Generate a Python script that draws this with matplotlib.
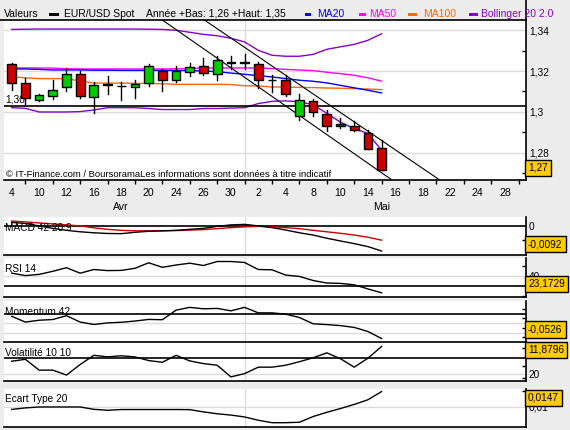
import matplotlib
matplotlib.use('Agg')
import matplotlib.pyplot as plt
from matplotlib.patches import Rectangle
from matplotlib.lines import Line2D
import matplotlib.transforms as mtrans
import numpy as np

plt.rcParams['font.family'] = ['Liberation Sans', 'DejaVu Sans']

# ---------------- data ----------------
days = [4, 5, 10, 11, 12, 13, 16, 17, 18, 19, 20, 23, 24, 25, 26, 27, 30,
        1, 2, 3, 4, 7, 8, 9, 10, 11, 14, 15,
        16, 17, 18, 21, 22, 23, 24, 25, 28, 29]
months = ['Avr'] * 17 + ['Mai'] * 21

opens = [1.3233, 1.3143, 1.3060, 1.3078, 1.3122, 1.3187, 1.3073, 1.3136, 1.3129, 1.3124,
         1.3143, 1.3200, 1.3158, 1.3195, 1.3226, 1.3187, 1.3244, 1.3244, 1.3236, 1.3155,
         1.3158, 1.2979, 1.3056, 1.2992, 1.2939, 1.2934, 1.2895, 1.2826]
highs = [1.3239, 1.3168, 1.3087, 1.3158, 1.3217, 1.3200, 1.3146, 1.3174, 1.3146, 1.3158,
         1.3233, 1.3210, 1.3223, 1.3241, 1.3265, 1.3272, 1.3272, 1.3285, 1.3242, 1.3182,
         1.3182, 1.3090, 1.3063, 1.3008, 1.2973, 1.2956, 1.2914, 1.2862]
lows = [1.3106, 1.3036, 1.3054, 1.3065, 1.3102, 1.3070, 1.2995, 1.3086, 1.3057, 1.3070,
        1.3127, 1.3102, 1.3146, 1.3178, 1.3180, 1.3158, 1.3212, 1.3212, 1.3119, 1.3098,
        1.3080, 1.2960, 1.2979, 1.2907, 1.2924, 1.2907, 1.2817, 1.2716]
closes = [1.3143, 1.3068, 1.3085, 1.3109, 1.3187, 1.3080, 1.3134, 1.3132, 1.3125, 1.3137,
          1.3223, 1.3158, 1.3199, 1.3221, 1.3189, 1.3256, 1.3240, 1.3240, 1.3158, 1.3155,
          1.3086, 1.3057, 1.2999, 1.2930, 1.2930, 1.2914, 1.2821, 1.2719]

ma20 = [1.3210, 1.3210, 1.3208, 1.3205, 1.3205, 1.3205, 1.3204, 1.3204, 1.3203, 1.3203,
        1.3203, 1.3203, 1.3203, 1.3202, 1.3200, 1.3197, 1.3190, 1.3184, 1.3177, 1.3171,
        1.3163, 1.3155, 1.3150, 1.3142, 1.3130, 1.3118, 1.3106, 1.3093]
ma50 = [1.3215, 1.3215, 1.3215, 1.3214, 1.3211, 1.3210, 1.3210, 1.3210, 1.3210, 1.3210,
        1.3210, 1.3210, 1.3211, 1.3212, 1.3215, 1.3215, 1.3215, 1.3215, 1.3215, 1.3212,
        1.3208, 1.3205, 1.3202, 1.3194, 1.3187, 1.3179, 1.3167, 1.3150]
ma100 = [1.3171, 1.3167, 1.3163, 1.3163, 1.3163, 1.3151, 1.3141, 1.3141, 1.3141, 1.3140,
         1.3139, 1.3138, 1.3135, 1.3135, 1.3135, 1.3135, 1.3134, 1.3128, 1.3127, 1.3122,
         1.3122, 1.3120, 1.3119, 1.3117, 1.3116, 1.3114, 1.3112, 1.3109]
bb_up = [1.3403, 1.3404, 1.3405, 1.3405, 1.3405, 1.3405, 1.3405, 1.3405, 1.3405, 1.3405,
         1.3404, 1.3403, 1.3399, 1.3389, 1.3379, 1.3372, 1.3360, 1.3342, 1.3301, 1.3277,
         1.3272, 1.3272, 1.3281, 1.3306, 1.3318, 1.3330, 1.3350, 1.3382]
bb_low = [1.3021, 1.3018, 1.3000, 1.3000, 1.3000, 1.3002, 1.3010, 1.3021, 1.3021, 1.3021,
          1.3017, 1.3012, 1.3012, 1.3012, 1.3017, 1.3017, 1.3019, 1.3021, 1.3041, 1.3052,
          1.3054, 1.3050, 1.3035, 1.2994, 1.2950, 1.2919, 1.2895, 1.2813]

support_level = 1.3028
channel_low = ([11.04, 27.61], [1.3447, 1.2675])
channel_high = ([14.11, 31.09], [1.3447, 1.2675])

macd = [0.00135, 0.00098, 0.00007, -0.00084, -0.00157, -0.00211, -0.00248, -0.00273, -0.00280, -0.00229,
        -0.00193, -0.00175, -0.00157, -0.00120, -0.00084, -0.00011, 0.00044, 0.00062, 0.00007, -0.00055,
        -0.00146, -0.00248, -0.00331, -0.00448, -0.00550, -0.00648, -0.00757, -0.0092]
macd_signal = [0.00186, 0.00153, 0.00116, 0.00080, 0.00044, 0.00007, -0.00066, -0.00120, -0.00157, -0.00175,
               -0.00175, -0.00175, -0.00167, -0.00149, -0.00131, -0.00095, -0.00058, -0.00029, -0.00011, -0.00022,
               -0.00058, -0.00095, -0.00157, -0.00211, -0.00266, -0.00331, -0.00411, -0.00521]
rsi = [42.9, 40.4, 41.6, 44.7, 48.3, 42.8, 46.5, 45.4, 45.6, 47.7,
       53.2, 48.7, 51.0, 52.8, 50.5, 54.5, 54.5, 53.5, 46.5, 46.2,
       40.9, 39.6, 35.5, 33.0, 32.6, 31.2, 27.1, 23.1729]
momentum = [-0.0056, -0.0178, -0.0139, -0.0124, -0.0043, -0.0178, -0.0229, -0.0195, -0.0182, -0.0156,
            -0.0122, -0.0128, 0.0075, 0.0133, 0.0103, 0.0111, 0.0060, 0.0133, 0.0017, 0.0017,
            -0.0011, -0.0081, -0.0214, -0.0231, -0.0253, -0.0291, -0.0377, -0.0526]
volatility = [9.43, 9.75, 7.96, 7.96, 7.14, 8.89, 10.41, 10.16, 10.33, 10.15,
              9.54, 9.26, 10.41, 9.48, 9.04, 8.77, 6.84, 7.38, 8.45, 8.45,
              8.77, 9.35, 10.00, 10.82, 9.84, 8.45, 9.92, 11.8796]
ecart = [0.00925, 0.00972, 0.0100, 0.0100, 0.0100, 0.0100, 0.00928, 0.0090, 0.00922, 0.00922,
         0.00922, 0.00922, 0.00922, 0.00919, 0.0085, 0.00793, 0.00753, 0.00696, 0.00596, 0.00521,
         0.00521, 0.00534, 0.00709, 0.00837, 0.00953, 0.01078, 0.01219, 0.0147]

# ---------------- styling constants ----------------
W, H = 570, 430
BG = '#ececec'
GRID = '#dcdcdc'
RED = '#cc0000'
GREEN = '#00cc00'
BLUE = '#0000ff'
MAGENTA = '#ff00ff'
ORANGE = '#ff6600'
PURPLE = '#8800cc'
YELLOW = '#ffcc00'
FS = 7.3

fig = plt.figure(figsize=(W / 100, H / 100), dpi=100, facecolor=BG)


def panel(x0, top, x1, bottom):
    return fig.add_axes([x0 / W, 1 - bottom / H, (x1 - x0) / W, (bottom - top) / H])


def fr(v, nd):
    s = f"{v:.{nd}f}".replace('.', ',')
    return s


n = len(closes)
idx = np.arange(n)
XMIN, XMAX = -0.56, len(days) - 0.46
month_start = months.index('Mai')


def base_style(ax):
    ax.set_facecolor('white')
    ax.spines['left'].set_visible(False)
    ax.spines['top'].set_visible(False)
    ax.spines['bottom'].set_linewidth(1.2)
    ax.spines['right'].set_linewidth(1.2)
    ax.set_xlim(XMIN, XMAX)
    ax.yaxis.tick_right()
    ax.axvline(month_start, color=GRID, lw=1, zorder=0)
    ax.tick_params(axis='y', which='major', length=0, pad=2, labelsize=FS)
    ax.tick_params(axis='y', which='minor', direction='in', length=3, width=1, right=True, left=False)


def value_box(ax, v, txt, hpx, top_m=8.5, bot_m=12.0):
    y0, y1 = ax.get_ylim()
    dpp = (y1 - y0) / hpx
    yy = min(max(v, y0 + bot_m * dpp), y1 - top_m * dpp)
    tr = mtrans.blended_transform_factory(ax.transAxes, ax.transData)
    ax.text(1.0 + 2.0 / 522, yy, txt, transform=tr, ha='left', va='center', fontsize=FS,
            bbox=dict(boxstyle='square,pad=0.32', fc=YELLOW, ec='black', lw=1), clip_on=False, zorder=10)


def title(ax, txt, hpx):
    ax.text(0.001, 1 - 11.0 / hpx, txt, transform=ax.transAxes, ha='left', va='center', fontsize=FS, zorder=6)


# ---------------- main chart ----------------
ax = panel(4, 20, 526, 180)
base_style(ax)
ax.set_ylim(1.2668, 1.3449)
ax.set_yticks([1.28, 1.30, 1.32, 1.34])
ax.set_yticklabels(['1,28', '1,3', '1,32', '1,34'])
ax.set_yticks([1.27, 1.29, 1.31, 1.33], minor=True)
for t in [1.28, 1.30, 1.32, 1.34]:
    ax.axhline(t, color=GRID, lw=1, zorder=0)

xt = list(range(0, len(days), 2))
ax.set_xticks(xt)
ax.set_xticklabels([str(days[i]) for i in xt])
ax.set_xticks(list(range(1, len(days), 2)), minor=True)
ax.tick_params(axis='x', which='major', length=0, pad=6, labelsize=7.6)
ax.tick_params(axis='x', which='minor', length=3, direction='out', width=1)
xtr = ax.get_xaxis_transform()
for m in ['Avr', 'Mai']:
    ii = [i for i, mm in enumerate(months) if mm == m]
    ax.text(np.mean(ii), -26.5 / 160, m, transform=xtr, ha='center', va='center', fontsize=7.6, clip_on=False)

ax.plot(idx, bb_up, color=PURPLE, lw=1, zorder=2)
ax.plot(idx, bb_low, color=PURPLE, lw=1, zorder=2)
ax.plot(idx, ma100, color=ORANGE, lw=1, zorder=2)
ax.plot(idx, ma50, color=MAGENTA, lw=1, zorder=2)
ax.plot(idx, ma20, color=BLUE, lw=1, zorder=2)

ax.axhline(support_level, color='black', lw=1.2, zorder=2)
ax.annotate('1,30', xy=(0, support_level), xycoords=mtrans.blended_transform_factory(ax.transAxes, ax.transData),
            xytext=(1, 5), textcoords='offset points', ha='left', va='center', fontsize=FS)

ax.axline((channel_low[0][0], channel_low[1][0]), (channel_low[0][1], channel_low[1][1]), color='black', lw=0.8, zorder=2)
ax.axline((channel_high[0][0], channel_high[1][0]), (channel_high[0][1], channel_high[1][1]), color='black', lw=0.8, zorder=2)

cw = 0.64
for i in range(n):
    o, h, l, c = opens[i], highs[i], lows[i], closes[i]
    ax.plot([i, i], [l, h], color='black', lw=1, zorder=3)
    col = GREEN if c >= o else RED
    ax.add_patch(Rectangle((i - cw / 2, min(o, c)), cw, abs(c - o), fc=col, ec='black', lw=1, zorder=4))

ax.text(2 / 522, 6 / 160, '\u00a9 IT-Finance.com / BoursoramaLes informations sont données à titre indicatif',
        transform=ax.transAxes, ha='left', va='center', fontsize=6.8, zorder=6)
value_box(ax, closes[-1], fr(closes[-1], 2), 160)

# ---------------- legend bar ----------------
ty = 1 - 13.7 / H
fig.add_artist(Line2D([0, 526 / W], [1 - 19.5 / H] * 2, color='black', lw=1.2))
fig.add_artist(Line2D([526 / W] * 2, [1 - 20 / H, 1.0], color='black', lw=1.2))
legend_items = [
    (4, 'Valeurs', 'black', None),
    (64, 'EUR/USD Spot', 'black', (49, 59)),
    (146, 'Année +Bas: 1,26 +Haut: 1,35', 'black', None),
    (316.7, 'MA20', BLUE, (305, 311)),
    (369, 'MA50', MAGENTA, (359, 366)),
    (422.7, 'MA100', ORANGE, (407.7, 416.7)),
    (481, 'Bollinger 20 2.0', PURPLE, (469, 478)),
]
for x, t, c, mk in legend_items:
    fig.text(x / W, ty, t, color=c, fontsize=7.5, ha='left', va='center')
    if mk is not None:
        fig.add_artist(Rectangle((mk[0] / W, 1 - 16 / H), (mk[1] - mk[0]) / W, 3 / H,
                                 transform=fig.transFigure, fc=c, ec='none'))

# ---------------- MACD ----------------
a1 = panel(4, 216.5, 526, 255)
base_style(a1)
a1.set_ylim(-0.01067, 0.00353)
a1.set_yticks([0])
a1.set_yticklabels(['0'])
a1.set_yticks([-0.005], minor=True)
a1.tick_params(axis='x', which='both', bottom=False, labelbottom=False)
a1.axhline(0, color='black', lw=1.2, zorder=1)
a1.plot(idx, macd_signal, color=RED, lw=1, zorder=3)
a1.plot(idx, macd, color='black', lw=1, zorder=3)
title(a1, 'MACD 42 20 9', 38.5)
value_box(a1, macd[-1], fr(macd[-1], 4), 38.5, bot_m=11.0)

# ---------------- RSI ----------------
a2 = panel(4, 258, 526, 297)
base_style(a2)
a2.set_ylim(19, 58)
a2.set_yticks([40])
a2.set_yticklabels(['40'])
a2.set_yticks([50, 20], minor=True)
a2.tick_params(axis='x', which='both', bottom=False, labelbottom=False)
a2.axhline(40, color=GRID, lw=1, zorder=0)
a2.axhline(30, color='black', lw=1.2, zorder=1)
a2.plot(idx, rsi, color='black', lw=1, zorder=3)
title(a2, 'RSI 14', 39)
value_box(a2, rsi[-1], fr(rsi[-1], 4), 39, bot_m=13.0)

# ---------------- Momentum ----------------
a3 = panel(4, 301, 526, 341.5)
base_style(a3)
a3.set_ylim(-0.0589, 0.0268)
a3.set_yticks([])
a3.set_yticks([0.01, -0.01, -0.03, -0.05], minor=True)
a3.tick_params(axis='x', which='both', bottom=False, labelbottom=False)
for g in [-0.02, -0.04]:
    a3.axhline(g, color=GRID, lw=1, zorder=0)
a3.axhline(0, color='black', lw=1.2, zorder=1)
a3.plot(idx, momentum, color='black', lw=1, zorder=3)
title(a3, 'Momentum 42', 40.5)
value_box(a3, momentum[-1], fr(momentum[-1], 4), 40.5, bot_m=12.0)

# ---------------- Volatility ----------------
a4 = panel(4, 342.5, 526, 381)
base_style(a4)
a4.set_ylim(6.16, 12.53)
a4.set_yticks([7.3])
a4.set_yticklabels(['20'])
a4.set_yticks([11.6, 8.6, 6.6], minor=True)
a4.tick_params(axis='x', which='both', bottom=False, labelbottom=False)
a4.axhline(7.3, color=GRID, lw=1, zorder=0)
a4.axhline(10, color='black', lw=1.2, zorder=1)
a4.plot(idx, volatility, color='black', lw=1, zorder=3)
title(a4, 'Volatilité 10 10', 38.5)
value_box(a4, volatility[-1], fr(volatility[-1], 4), 38.5, top_m=7.5)

# ---------------- Ecart type ----------------
a5 = panel(4, 388.5, 526, 426.5)
base_style(a5)
a5.set_ylim(0.00405, 0.01563)
a5.set_yticks([0.01])
a5.set_yticklabels(['0,01'])
a5.set_yticks([0.015], minor=True)
a5.tick_params(axis='x', which='both', bottom=False, labelbottom=False)
a5.axhline(0.01, color=GRID, lw=1, zorder=0)
a5.plot(idx, ecart, color='black', lw=1, zorder=3)
title(a5, 'Ecart Type 20', 38)
value_box(a5, ecart[-1], fr(ecart[-1], 4), 38, top_m=9.5)

fig.savefig('out.png', dpi=100, facecolor=BG)
